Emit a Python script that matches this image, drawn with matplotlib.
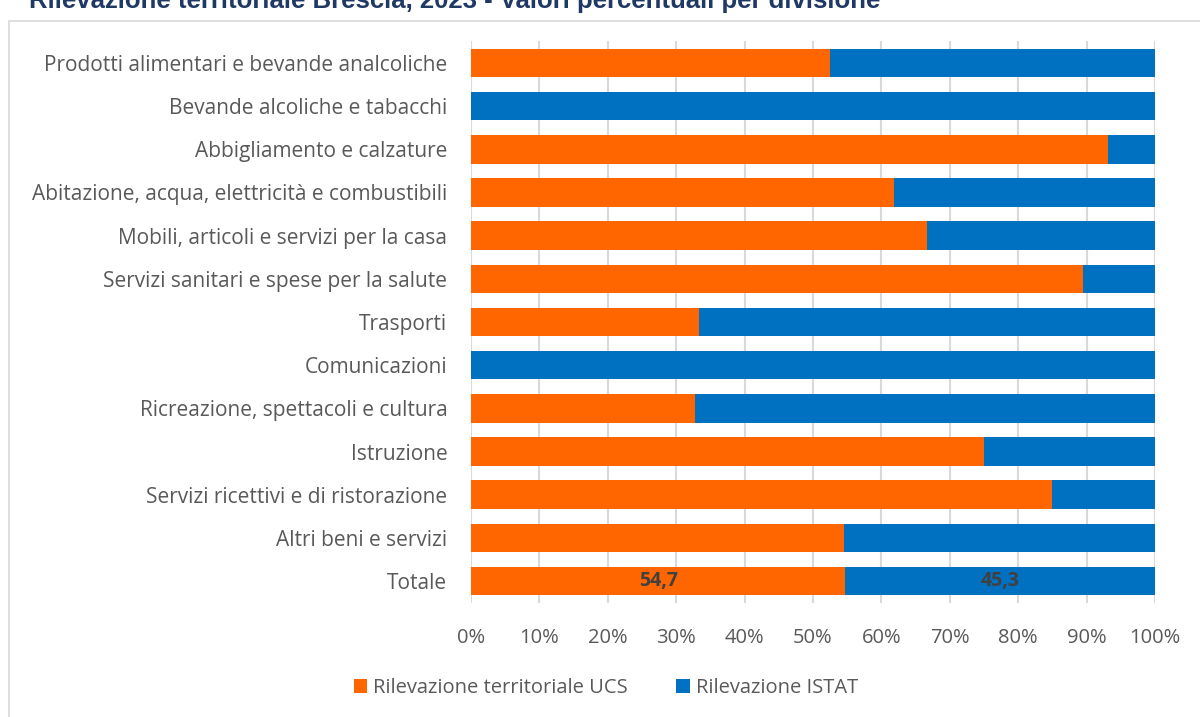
import matplotlib.pyplot as plt
from matplotlib.patches import Rectangle

# dati (percentuali)
categorie = [
    "Prodotti alimentari e bevande analcoliche",
    "Bevande alcoliche e tabacchi",
    "Abbigliamento e calzature",
    "Abitazione, acqua, elettricità e combustibili",
    "Mobili, articoli e servizi per la casa",
    "Servizi sanitari e spese per la salute",
    "Trasporti",
    "Comunicazioni",
    "Ricreazione, spettacoli e cultura",
    "Istruzione",
    "Servizi ricettivi e di ristorazione",
    "Altri beni e servizi",
    "Totale",
]
ucs = [52.5, 0.0, 93.1, 61.8, 66.7, 89.5, 33.3, 0.0, 32.7, 75.0, 85.0, 54.5, 54.7]
istat = [100 - v for v in ucs]
tick_x = [0, 10, 20, 30, 40, 50, 60, 70, 80, 90, 100]

arancio = "#FF6600"
blu = "#0070C0"
grigio = "#595959"

plt.rcParams['font.family'] = ['Open Sans', 'DejaVu Sans']

fig = plt.figure(figsize=(12, 7.17), dpi=100)
ax = fig.add_axes([0.3925, 0.1595, 0.57, 0.7828])

# cornice del grafico
fig.patches.append(Rectangle((9 / 1200, -0.05), 1.1, 1 - 21 / 717 + 0.05,
                             transform=fig.transFigure, fill=False,
                             edgecolor="#D9D9D9", linewidth=1.2))

# titolo (tagliato in alto come nell'originale)
fig.text(29 / 1200, 1 - 1 / 717, "Rilevazione territoriale Brescia, 2023 - Valori percentuali per divisione",
         fontsize=18.5, fontweight="bold", color="#1F3864", family="Liberation Sans",
         ha="left", va="center")

y = list(range(len(categorie)))
ax.barh(y, ucs, height=0.66, color=arancio, label="Rilevazione territoriale UCS", zorder=3)
ax.barh(y, istat, left=ucs, height=0.66, color=blu, label="Rilevazione ISTAT", zorder=3)

# etichette solo sul totale
i = len(categorie) - 1
ax.text(ucs[i] / 2, i, f"{ucs[i]:.1f}".replace(".", ","), ha="center", va="center",
        fontsize=14, fontweight="bold", color="#404040", zorder=4)
ax.text(ucs[i] + istat[i] / 2, i, f"{istat[i]:.1f}".replace(".", ","), ha="center", va="center",
        fontsize=14, fontweight="bold", color="#404040", zorder=4)

ax.set_xlim(0, 100)
ax.set_ylim(len(categorie) - 0.5, -0.5)
ax.set_yticks(y)
ax.set_yticklabels(categorie, fontsize=15, color=grigio)
ax.set_xticks(tick_x)
ax.set_xticklabels([f"{t}%" for t in tick_x], fontsize=14.5, color=grigio)
ax.tick_params(axis="both", length=0)
ax.tick_params(axis="y", pad=17)
ax.tick_params(axis="x", pad=18)
ax.grid(axis="x", color="#D9D9D9", linewidth=1.5, zorder=0)
for s in ax.spines.values():
    s.set_visible(False)

fig.legend(loc="center", bbox_to_anchor=(606 / 1200, 1 - 688 / 717), ncol=2,
           frameon=False, fontsize=14.5, handlelength=0.65, handleheight=0.65,
           handletextpad=0.3, columnspacing=2.4, labelcolor=grigio)

fig.savefig("out.png", dpi=100)
